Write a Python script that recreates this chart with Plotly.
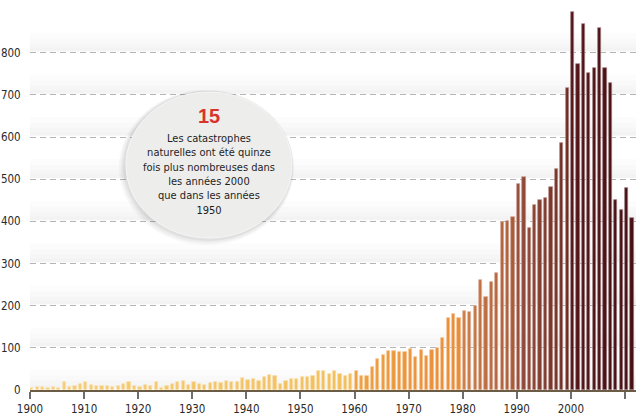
import plotly.graph_objects as go

# Number of natural disasters recorded per year, 1900-2011
years = list(range(1900, 2012))
disasters = [
    5, 6, 7, 5, 6, 4, 20, 6, 10, 14,          # 1900s
    18, 12, 9, 10, 9, 8, 10, 15, 18, 9,       # 1910s
    6, 11, 10, 18, 5, 10, 14, 18, 21, 11,     # 1920s
    18, 14, 12, 16, 18, 16, 22, 20, 18, 29,   # 1930s
    24, 26, 22, 30, 36, 34, 14, 22, 25, 26,   # 1940s
    32, 32, 33, 46, 44, 37, 44, 37, 34, 37,   # 1950s
    46, 34, 34, 54, 73, 83, 93, 93, 89, 89,   # 1960s
    97, 79, 95, 81, 95, 100, 124, 170, 180, 172,   # 1970s
    187, 185, 199, 261, 221, 257, 277, 399, 402, 411,  # 1980s
    488, 506, 384, 439, 451, 456, 482, 524, 585, 716,  # 1990s
    897, 773, 868, 753, 763, 858, 763, 728, 451, 427,  # 2000s
    480, 407,                                          # 2010s
]

x_ticks = list(range(1900, 2011, 10))
y_ticks = list(range(0, 900, 100))

callout_number = "15"
callout_lines = [
    "Les catastrophes",
    "naturelles ont été quinze",
    "fois plus nombreuses dans",
    "les années 2000",
    "que dans les années",
    "1950",
]

FONT = "Liberation Sans Narrow, Arial Narrow, DejaVu Sans Condensed, sans-serif"

# colour ramp over the years: pale yellow -> orange -> brown -> maroon
ramp = [
    (1900, (245, 206, 120)),
    (1959, (242, 190, 92)),
    (1960, (238, 160, 64)),
    (1979, (232, 140, 56)),
    (1980, (205, 125, 72)),
    (1989, (170, 92, 58)),
    (1990, (150, 78, 58)),
    (1999, (110, 44, 36)),
    (2000, (84, 22, 26)),
    (2011, (70, 16, 20)),
]


def ramp_color(y, mix=0.0):
    for (y0, c0), (y1, c1) in zip(ramp, ramp[1:]):
        if y0 <= y <= y1:
            t = 0 if y1 == y0 else (y - y0) / (y1 - y0)
            c = [c0[i] + (c1[i] - c0[i]) * t for i in range(3)]
            break
    else:
        c = ramp[-1][1]
    c = [v + (255 - v) * mix for v in c]
    return "rgb(%d,%d,%d)" % tuple(round(v) for v in c)


bar_colors = [ramp_color(y) for y in years]
edge_colors = [ramp_color(y, 0.45) for y in years]

fig = go.Figure()
fig.add_trace(go.Bar(
    x=years,
    y=disasters,
    width=0.6,
    offset=0.02,
    marker=dict(color=bar_colors, line=dict(color=edge_colors, width=0.7)),
    hoverinfo="x+y",
    showlegend=False,
))

# plot-area geometry in pixels, used to place the callout bubble
W, H = 636, 415
L, R, T, B = 30, 0, 0, 25
PW, PH = W - L - R, H - T - B


def px(xp):
    return (xp - L) / PW


def py(yp):
    return (H - B - yp) / PH


shapes = []
# soft grey shading sitting just above each gridline
for v in range(0, 900, 100):
    for dv in [12, 22, 34, 48]:
        shapes.append(dict(
            type="rect", xref="paper", yref="y", layer="below",
            x0=0, x1=1, y0=v + 3, y1=v + dv,
            fillcolor="rgba(110,100,90,0.018)", line=dict(width=0),
        ))

# callout bubble with a soft drop shadow
cx0, cx1, cy0, cy1 = 126, 292, 92, 238
for d, a in [(7, 0.04), (5, 0.05), (3, 0.07)]:
    shapes.append(dict(
        type="circle", xref="paper", yref="paper", layer="above",
        x0=px(cx0 - d), x1=px(cx1 + d * 0.3), y0=py(cy1 + d), y1=py(cy0 - d * 0.3),
        fillcolor="rgba(60,60,60,%.2f)" % a, line=dict(width=0),
    ))
shapes.append(dict(
    type="circle", xref="paper", yref="paper", layer="above",
    x0=px(cx0), x1=px(cx1), y0=py(cy1), y1=py(cy0),
    fillcolor="#ededec", line=dict(color="#f6f6f6", width=1),
))

ccx = px((cx0 + cx1) / 2)
annotations = [
    dict(
        x=ccx, y=py(116), xref="paper", yref="paper", text="<b>%s</b>" % callout_number,
        showarrow=False, font=dict(family="Liberation Sans, Arial, sans-serif", size=20, color="#d8342a"),
        xanchor="center", yanchor="middle",
    ),
    dict(
        x=ccx, y=py(174), xref="paper", yref="paper", text="<br>".join(callout_lines),
        showarrow=False, font=dict(family=FONT, size=11, color="#1e1e1e"),
        xanchor="center", yanchor="middle", align="center",
    ),
]

fig.update_layout(
    width=W, height=H,
    margin=dict(l=L, r=R, t=T, b=B, pad=0),
    paper_bgcolor="white",
    plot_bgcolor="rgba(0,0,0,0)",
    bargap=0,
    shapes=shapes,
    annotations=annotations,
    font=dict(family=FONT, size=11, color="#333"),
)
fig.update_xaxes(
    range=[1900, 2012.05],
    tickvals=x_ticks,
    ticks="outside", ticklen=7, tickwidth=1.5, tickcolor="#6e6e6e",
    showline=True, linecolor="#6b5d45", linewidth=1.6,
    showgrid=False, zeroline=False,
    tickfont=dict(family=FONT, size=11.5, color="#2a2a2a"),
    automargin=False, fixedrange=True,
)
fig.update_yaxes(
    range=[0, 925.3],
    tickvals=y_ticks,
    showgrid=True, gridcolor="#b4b4b4", gridwidth=1, griddash="6px,4px",
    zeroline=False, showline=False,
    ticks="outside", ticklen=6, tickcolor="rgba(0,0,0,0)",
    tickfont=dict(family=FONT, size=11.5, color="#2a2a2a"),
    automargin=False, fixedrange=True,
)

fig.write_html("out.html")
